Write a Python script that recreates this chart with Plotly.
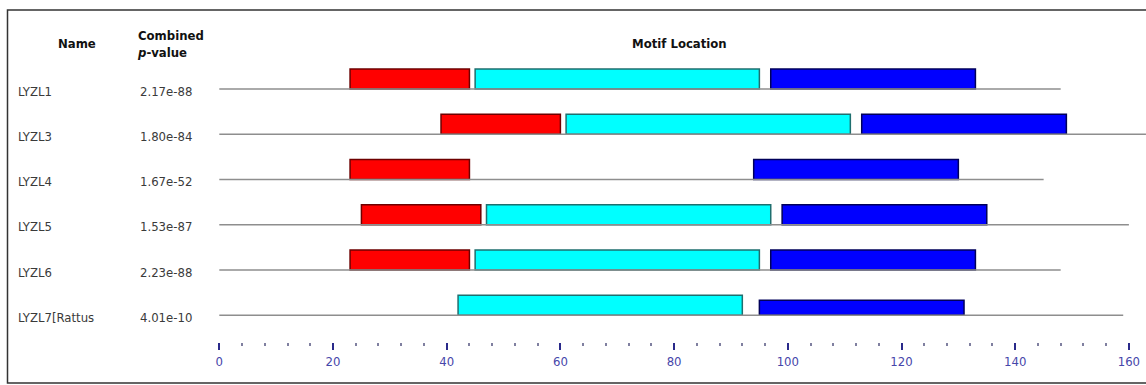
import plotly.graph_objects as go

# Sequences and their combined p-values
names = ["LYZL1", "LYZL3", "LYZL4", "LYZL5", "LYZL6", "LYZL7[Rattus"]
pvalues = ["2.17e-88", "1.80e-84", "1.67e-52", "1.53e-87", "2.23e-88", "4.01e-10"]
seq_lengths = [148, 163, 145, 160, 148, 159]

# Motif sites (start positions; None = motif absent in that sequence)
motif_names = ["Motif 1", "Motif 2", "Motif 3"]
motif_widths = [21, 50, 36]
motif1_starts = [23, 39, 23, 25, 23, None]
motif2_starts = [45, 61, None, 47, 45, 42]
motif3_starts = [97, 113, 94, 99, 97, 95]
# relative block height (site significance)
motif1_heights = [1, 1, 1, 1, 1, None]
motif2_heights = [1, 1, None, 1, 1, 1]
motif3_heights = [1, 1, 1, 1, 1, 0.75]

major_ticks = [0, 20, 40, 60, 80, 100, 120, 140, 160]
minor_ticks = [v for v in range(0, 161, 4) if v % 20]

motif_fill = ["#ff0000", "#00ffff", "#0000ff"]
motif_edge = ["#6e0000", "#1f6f6f", "#00005a"]

W, H = 1146, 385
ROW0_PX, ROW_STEP_PX, BLOCK_PX = 89.0, 45.27, 20.0
X0_PX, X_SCALE = 219.3, 5.685  # pixel of position 0, pixels per residue

font_family = "DejaVu Sans Condensed, DejaVu Sans, sans-serif"

fig = go.Figure()

# sequence backbone lines
for i, L in enumerate(seq_lengths):
    fig.add_trace(go.Scatter(
        x=[0, L], y=[i, i], mode="lines",
        line=dict(color="#8e8e8e", width=1.5),
        hoverinfo="skip", showlegend=False))

block_h = BLOCK_PX / ROW_STEP_PX
for m, (starts, heights) in enumerate([
        (motif1_starts, motif1_heights),
        (motif2_starts, motif2_heights),
        (motif3_starts, motif3_heights)]):
    ys, xs, bases, widths = [], [], [], []
    for i, (s, h) in enumerate(zip(starts, heights)):
        if s is None:
            continue
        hh = block_h * h
        ys.append(i - hh / 2)
        xs.append(motif_widths[m])
        bases.append(s)
        widths.append(hh)
    fig.add_trace(go.Bar(
        orientation="h", y=ys, x=xs, base=bases, width=widths,
        marker=dict(color=motif_fill[m], line=dict(color=motif_edge[m], width=1.5)),
        name=motif_names[m], showlegend=False))

# row labels
label_font = dict(family=font_family, size=13, color="#3a3a3a")
for i, (n, p) in enumerate(zip(names, pvalues)):
    fig.add_annotation(x=16 / W, xref="paper", y=i, yref="y", text=n,
                       showarrow=False, xanchor="left", yanchor="middle",
                       yshift=-2, font=label_font)
    fig.add_annotation(x=194 / W, xref="paper", y=i, yref="y", text=p,
                       showarrow=False, xanchor="right", yanchor="middle",
                       yshift=-2, font=label_font)

head_font = dict(family=font_family, size=13, color="#111111", weight="bold")
fig.add_annotation(x=77 / W, xref="paper", y=1 - 43 / H, yref="paper", text="<b>Name</b>",
                   showarrow=False, xanchor="center", yanchor="middle", font=head_font)
fig.add_annotation(x=170 / W, xref="paper", y=1 - 44 / H, yref="paper",
                   text="<b>Combined</b><br><b><i>p</i>-value</b>",
                   showarrow=False, xanchor="center", yanchor="middle", align="left",
                   font=head_font)
fig.add_annotation(x=679 / W, xref="paper", y=1 - 43 / H, yref="paper",
                   text="<b>Motif Location</b>",
                   showarrow=False, xanchor="center", yanchor="middle", font=head_font)

# frame (open on the right)
fig.add_shape(type="rect", xref="paper", yref="paper",
              x0=7.5 / W, x1=1.1, y0=(H - 383) / H, y1=(H - 10) / H,
              line=dict(color="#333333", width=1.5), fillcolor="rgba(0,0,0,0)", layer="below")

x_lo = -X0_PX / X_SCALE
x_hi = (W - X0_PX) / X_SCALE
y_top = -ROW0_PX / ROW_STEP_PX
y_bot = (H - ROW0_PX) / ROW_STEP_PX

fig.update_layout(
    width=W, height=H,
    margin=dict(l=0, r=0, t=0, b=0),
    paper_bgcolor="white", plot_bgcolor="white",
    barmode="overlay",
    xaxis=dict(range=[x_lo, x_hi], anchor="free", position=(H - 342) / H,
               showgrid=False, zeroline=False, showline=False,
               tickmode="array", tickvals=major_ticks,
               ticktext=[str(v) for v in major_ticks],
               ticks="outside", ticklen=7, tickwidth=2, tickcolor="#2a2a8a",
               tickfont=dict(family=font_family, size=13, color="#4646aa"),
               minor=dict(tickmode="array", tickvals=minor_ticks, ticks="outside",
                          ticklen=3, tickwidth=1.5, tickcolor="#8080a0", showgrid=False)),
    yaxis=dict(range=[y_bot, y_top], visible=False, showgrid=False, zeroline=False),
)

fig.write_html("out.html")
